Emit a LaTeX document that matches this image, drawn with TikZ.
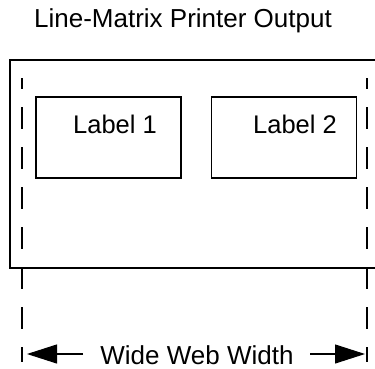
\documentclass[tikz,border=0pt]{standalone}
\usepackage{fontspec}
\setmainfont{Liberation Sans}
\usetikzlibrary{arrows.meta}
\begin{document}
\begin{tikzpicture}[x=1pt,y=-1pt,
  frame/.style={line width=1.1pt},
  labelbox/.style={draw,line width=1.1pt,minimum width=145pt,minimum height=81pt,inner sep=0pt},
  txt/.style={inner sep=0pt,anchor=base,font=\fontsize{26}{30}\selectfont},
  guide/.style={line width=1.1pt,dash pattern=on 22pt off 18pt,dash phase=11pt},
  dimarrow/.style={line width=1.1pt,-{Triangle[length=30pt,width=19pt]}}]
\useasboundingbox (0,0) rectangle (375,368);
% title
\node[txt] (title) at (183,27) {Line-Matrix Printer Output};
% outer sheet (right side beyond picture)
\coordinate (o1) at (377,60);
\coordinate (o2) at (10,60);
\coordinate (o3) at (10,268);
\coordinate (o4) at (377,268);
\draw[frame] (o1) -- (o2) -- (o3) -- (o4);
% label boxes
\node[labelbox] (box1) at (108.5,137.5) {};
\node[labelbox] (box2) at (284,137.5) {};
\node[txt,font=\fontsize{25.5}{30}\selectfont] (lab1) at (115,133) {Label 1};
\node[txt,font=\fontsize{25.5}{30}\selectfont] (lab2) at (295,133) {Label 2};
% guide lines
\coordinate (gl1) at (22,78);
\coordinate (gl2) at (22,362);
\coordinate (gr1) at (367,78);
\coordinate (gr2) at (367,362);
\draw[guide] (gl1) -- (gl2);
\draw[guide] (gr1) -- (gr2);
% width dimension
\node[txt] (ww) at (197,364) {Wide Web Width};
\coordinate (la) at (27,354);
\coordinate (ra) at (365,354);
\coordinate (ls) at (83,354);
\coordinate (rs) at (310,354);
\draw[dimarrow] (ls) -- (la);
\draw[dimarrow] (rs) -- (ra);
\end{tikzpicture}
\end{document}
